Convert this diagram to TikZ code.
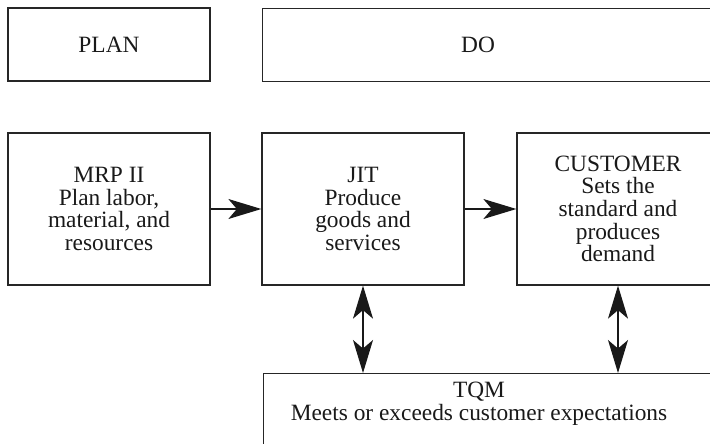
\documentclass[tikz,border=0pt]{standalone}
\usepackage{fontspec}
\setmainfont{Liberation Serif}
\usetikzlibrary{arrows.meta}

\begin{document}
\begin{tikzpicture}[x=0.02cm, y=-0.02cm, >={Stealth[length=0.66cm, width=0.4cm, inset=0.17cm]}]
\tikzstyle{block} = [rectangle, draw=black!85, line width=0.75pt, text=black!90,
minimum width=4.04cm, align=center, inner sep=0pt]
\tikzstyle{label} = [text=black!90, align=center, inner sep=0pt]
\tikzstyle{line} = [draw=black!90, line width=0.75pt, ->]
\tikzstyle{both} = [draw=black!90, line width=0.75pt, <->]
\tikzset{every node/.style={font=\fontsize{13.3}{12.9}\selectfont}}

\useasboundingbox (0,0) rectangle (710,443);
\clip (0,0) rectangle (710,443);

% top row
\node [block, minimum height=1.46cm] (plan) at (109,44.5) {PLAN};
\node [block, anchor=north west, minimum width=9.6cm, minimum height=1.46cm] (doframe) at (262,8) {};
\node [label] (do) at (478,44.5) {DO};

% middle row
\node [block, minimum height=3.04cm] (mrp) at (109,209) {MRP II\\Plan labor,\\material, and\\resources};
\node [block, minimum height=3.04cm] (jit) at (363,209) {JIT\\Produce\\goods and\\services};
\node [block, minimum height=3.04cm] (cust) at (618,209) {CUSTOMER\\Sets the\\standard and\\produces\\demand};

% bottom row
\node [block, anchor=north west, minimum width=9.6cm, minimum height=2cm] (tqmframe) at (263,373) {};
\node [label] (tqm) at (479,404) {TQM\\Meets or exceeds customer expectations};

\path [line] (mrp) -- (jit);
\path [line] (jit) -- (cust);
\path [both] (jit.south) -- (jit.south |- tqmframe.north);
\path [both] (cust.south) -- (cust.south |- tqmframe.north);

\end{tikzpicture}
\end{document}
